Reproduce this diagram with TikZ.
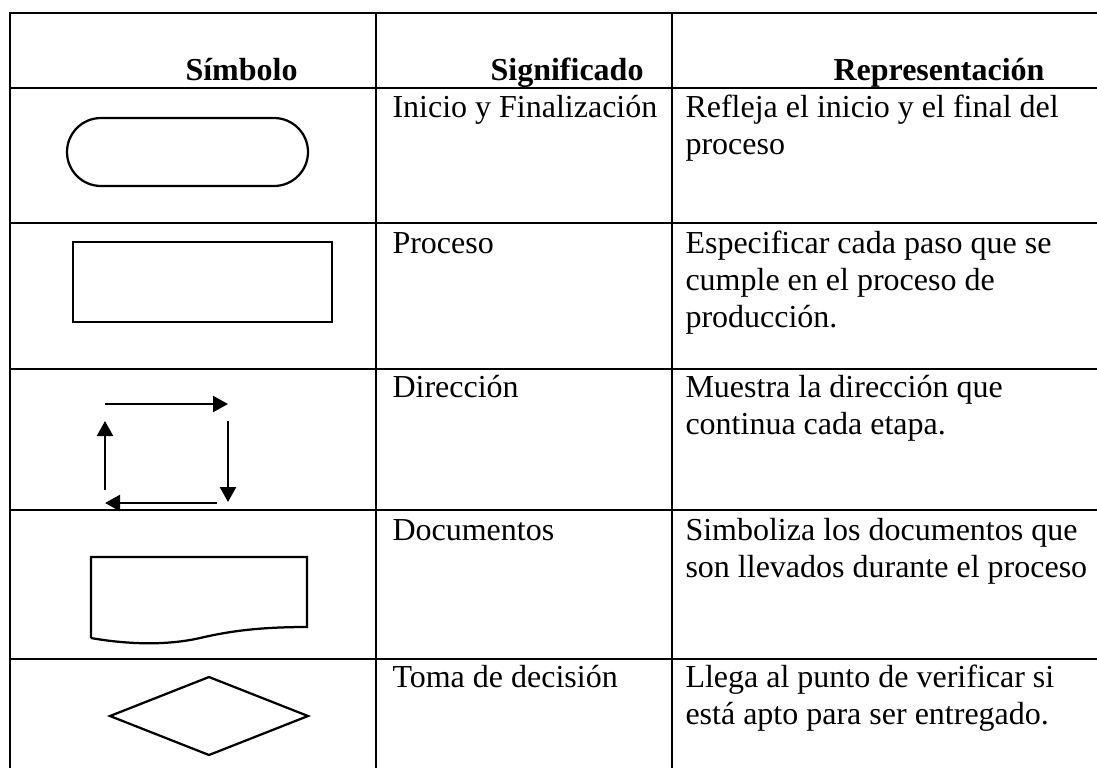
\documentclass[tikz,border=0pt]{standalone}
\usepackage{fontspec}
\setmainfont{Liberation Serif}
\usetikzlibrary{arrows.meta}
\tikzset{TableLine/.style={%
    line width=1.1pt,%
    line cap=rect,%
}}
\tikzset{SymbolLine/.style={%
    line width=0.9pt,%
    line join=miter,%
}}
\tikzset{FlowArrow/.style={%
    -{Triangle[length=6pt,width=6.4pt]},%
    line width=0.9pt,%
}}
\tikzset{HeadText/.style={%
    anchor=base west,%
    inner sep=0pt,%
    font=\fontsize{12.8}{14.8}\selectfont\bfseries,%
}}
\tikzset{CellText/.style={%
    anchor=base west,%
    inner sep=0pt,%
    font=\fontsize{12.8}{14.8}\selectfont,%
}}

\begin{document}
\begin{tikzpicture}[x=0.4pt, y=-0.4pt]
    \useasboundingbox (0,0) rectangle (1097,767);

    % table rules
    \foreach \y in {13,88,223,369,510,659}
        \draw[TableLine] (10,\y) -- (1097,\y);
    \foreach \x in {10,376,672}
        \draw[TableLine] (\x,13) -- (\x,767);

    % header
    \node[HeadText] (hSym) at (185,80) {Símbolo};
    \node[HeadText, anchor=base east] (hSig) at (644,80) {Significado};
    \node[HeadText] (hRep) at (833,80) {Representación};

    % row 1
    \node[CellText] (sig1) at (392,117) {Inicio y Finalización};
    \node[CellText] (rep1a) at (685,117) {Refleja el inicio y el final del};
    \node[CellText] (rep1b) at (685,154) {proceso};
    % row 2
    \node[CellText] (sig2) at (392,253) {Proceso};
    \node[CellText] (rep2a) at (685,253) {Especificar cada paso que se};
    \node[CellText] (rep2b) at (685,290) {cumple en el proceso de};
    \node[CellText] (rep2c) at (685,327) {producción.};
    % row 3
    \node[CellText] (sig3) at (392,397) {Dirección};
    \node[CellText] (rep3a) at (685,397) {Muestra la dirección que};
    \node[CellText] (rep3b) at (685,434) {continua cada etapa.};
    % row 4
    \node[CellText] (sig4) at (392,540) {Documentos};
    \node[CellText] (rep4a) at (685,540) {Simboliza los documentos que};
    \node[CellText] (rep4b) at (685,577) {son llevados durante el proceso};
    % row 5
    \node[CellText] (sig5) at (392,687) {Toma de decisión};
    \node[CellText] (rep5a) at (685,687) {Llega al punto de verificar si};
    \node[CellText] (rep5b) at (685,724) {está apto para ser entregado.};

    % symbols
    \draw[SymbolLine, rounded corners=13.6pt] (67,118) rectangle (308,186);
    \draw[SymbolLine] (73,242) rectangle (332,322);

    \coordinate (dirTL) at (105,404);
    \coordinate (dirTR) at (228,404);
    \coordinate (dirRT) at (228,421);
    \coordinate (dirRB) at (228,502);
    \coordinate (dirBR) at (217,503);
    \coordinate (dirBL) at (105,503);
    \coordinate (dirLB) at (105,490);
    \coordinate (dirLT) at (105,421);
    \draw[FlowArrow] (dirTL) -- (dirTR);
    \draw[FlowArrow] (dirRT) -- (dirRB);
    \draw[FlowArrow] (dirBR) -- (dirBL);
    \draw[FlowArrow] (dirLB) -- (dirLT);

    \draw[SymbolLine] (91,638) -- (91,557) -- (307,557) -- (307,627)
        .. controls (260,627) and (230,631) .. (200,638)
        .. controls (165,646) and (125,644) .. (91,638);

    \draw[SymbolLine] (110,716) -- (209,677) -- (308,716) -- (209,755) -- cycle;
\end{tikzpicture}
\end{document}
